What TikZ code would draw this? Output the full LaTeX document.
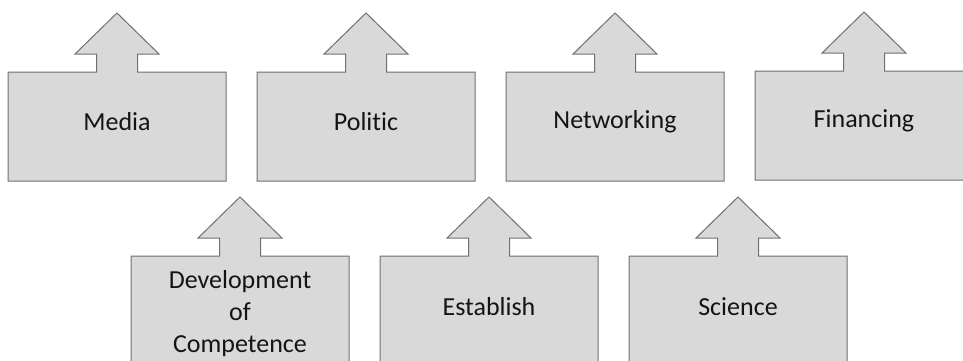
\documentclass[tikz,border=0pt]{standalone}
\usepackage{fontspec}
\setmainfont[Ligatures={NoCommon},RawFeature={-liga;-clig;-dlig}]{Carlito}
\definecolor{boxfill}{HTML}{D9D9D9}
\definecolor{boxline}{HTML}{707070}
\tikzset{
  callout/.style={fill=boxfill,draw=boxline,line width=1pt,line join=miter},
  lbl/.style={font=\fontsize{26}{32}\selectfont,align=center,text=black!92,inner sep=0pt}
}
\newcommand\upcallout[5]{%
  \draw[callout] (#2-109,#3) -- (#2-20.5,#3) -- (#2-20.5,#3-18) -- (#2-42,#3-18)
    -- (#2,#3-59) -- (#2+42,#3-18) -- (#2+20.5,#3-18) -- (#2+20.5,#3)
    -- (#2+109,#3) -- (#2+109,#3+109) -- (#2-109,#3+109) -- cycle;
  \node[lbl] (#1) at (#2,#3+#5) {#4};
}
\begin{document}
\begin{tikzpicture}[x=1pt,y=-1pt]
\useasboundingbox (0,0) rectangle (963,360);
\clip (0,0) rectangle (963,360);
\fill[white] (0,0) rectangle (963,360);
\upcallout{media}{117}{72}{Media}{50}
\upcallout{politic}{366}{72}{Politic}{50}
\upcallout{networking}{615}{72}{Networking}{50}
\upcallout{financing}{864}{71}{Financing}{50}
\upcallout{development}{240}{256}{Development\\of\\Competence}{58}
\upcallout{establish}{489}{256}{Establish}{51}
\upcallout{science}{738}{256}{Science}{51}
\end{tikzpicture}
\end{document}
